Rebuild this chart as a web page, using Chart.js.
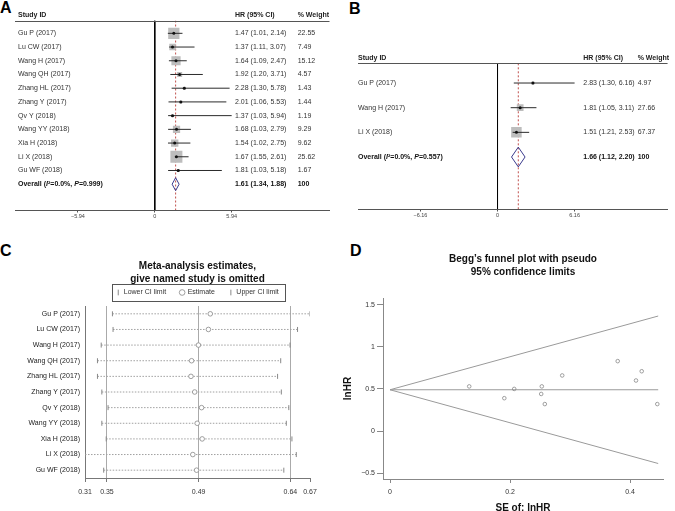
<!DOCTYPE html>
<html>
<head>
<meta charset="utf-8">
<script src="https://cdn.jsdelivr.net/npm/chart.js@4.4.1/dist/chart.umd.min.js"></script>
<style>
  body { margin: 0; width: 675px; height: 511px; overflow: hidden; background: #fff; position: relative; font-family: 'Liberation Sans', Arial, sans-serif; }
  canvas { position: absolute; }
  .tag { position: absolute; font-weight: bold; font-size: 16px; line-height: 1; color: #000; }
</style>
</head>
<body>
<div class="tag" style="left:0;top:0">A</div>
<div class="tag" style="left:349px;top:1px">B</div>
<div class="tag" style="left:0;top:243px">C</div>
<div class="tag" style="left:350px;top:243px">D</div>
<canvas id="chartA" width="338" height="232" style="left:0;top:0"></canvas>
<canvas id="chartB" width="335" height="232" style="left:340px;top:0"></canvas>
<canvas id="chartC" width="338" height="261" style="left:0;top:250px"></canvas>
<canvas id="chartD" width="335" height="268" style="left:340px;top:246px"></canvas>
<script>
const FONT = "'Liberation Sans', Arial, Helvetica, sans-serif";
Chart.defaults.font.family = FONT;
Chart.defaults.color = '#333';

// Panel A: forest plot, all studies
const studiesA = ['Gu P (2017)', 'Lu CW (2017)', 'Wang H (2017)', 'Wang QH (2017)', 'Zhang HL (2017)', 'Zhang Y (2017)', 'Qv Y (2018)', 'Wang YY (2018)', 'Xia H (2018)', 'Li X (2018)', 'Gu WF (2018)'];
const hrA = [1.47, 1.37, 1.64, 1.92, 2.28, 2.01, 1.37, 1.68, 1.54, 1.67, 1.81];
const lowA = [1.01, 1.11, 1.09, 1.20, 1.30, 1.06, 1.03, 1.03, 1.02, 1.55, 1.03];
const highA = [2.14, 3.07, 2.47, 3.71, 5.78, 5.53, 5.94, 2.79, 2.75, 2.61, 5.18];
const weightA = [22.55, 7.49, 15.12, 4.57, 1.43, 1.44, 1.19, 9.29, 9.62, 25.62, 1.67];
const overallA = [1.61, 1.34, 1.88]; // HR, low, high
const hetA = ['0.0%', '0.999'];
const ticksA = [-5.94, 0, 5.94];

// Panel B: forest plot, subgroup
const studiesB = ['Gu P (2017)', 'Wang H (2017)', 'Li X (2018)'];
const hrB = [2.83, 1.81, 1.51];
const lowB = [1.30, 1.05, 1.21];
const highB = [6.16, 3.11, 2.53];
const weightB = [4.97, 27.66, 67.37];
const overallB = [1.66, 1.12, 2.20];
const hetB = ['0.0%', '0.557'];
const ticksB = [-6.16, 0, 6.16];

// Panel C: leave-one-out sensitivity
const omitLow = [0.354, 0.355, 0.336, 0.330, 0.330, 0.337, 0.347, 0.337, 0.344, 0.310, 0.340];
const omitEst = [0.511, 0.508, 0.492, 0.481, 0.480, 0.486, 0.497, 0.490, 0.498, 0.483, 0.489];
const omitHigh = [0.671, 0.651, 0.639, 0.624, 0.619, 0.625, 0.637, 0.633, 0.642, 0.649, 0.629];
const omitTicks = [0.31, 0.3452, 0.4924, 0.6396, 0.671];

// Panel D: Begg's funnel plot
const seD = [0.132, 0.1905, 0.207, 0.253, 0.252, 0.258, 0.287, 0.3795, 0.41, 0.4195, 0.4455];
const lnhrD = [0.53, 0.39, 0.50, 0.53, 0.44, 0.32, 0.66, 0.83, 0.60, 0.71, 0.32];
const funnelSE = [0, 0.447];
const funnelMid = [0.49, 0.49];
const funnelUp = [0.49, 1.366];
const funnelLow = [0.49, -0.386];
const ticksDx = [0, 0.2, 0.4];
const ticksDy = [-0.5, 0, 0.5, 1, 1.5];

const signed = v => v === 0 ? '0' : (v < 0 ? '\u2212' : '') + Math.abs(v).toFixed(2);
const fmtCI = (h, l, u) => h.toFixed(2) + ' (' + l.toFixed(2) + ', ' + u.toFixed(2) + ')';

function forestChart(id, cfg) {
  const n = cfg.studies.length;
  const maxW = Math.max(...cfg.weight);
  const boxRadius = cfg.weight.map(w => cfg.maxBox * Math.sqrt(w / maxW) / Math.SQRT2);
  const [ohr, olo, ohi] = cfg.overall;
  const h = cfg.diamondHalf;
  const pts = cfg.hr.map((v, i) => ({ x: v, y: i }));
  const line = (data, color, extra) => Object.assign({ data, showLine: true, borderColor: color, borderWidth: 1, pointRadius: 0 }, extra);

  const datasets = [
    { data: pts, pointStyle: 'circle', pointRadius: 1.5, backgroundColor: '#111', borderWidth: 0, order: 1 },
    line([{ x: olo, y: n }, { x: ohr, y: n - h }, { x: ohi, y: n }, { x: ohr, y: n + h }, { x: olo, y: n }], '#3a3a8c', { order: 2 }),
    ...cfg.studies.map((s, i) => line([{ x: cfg.low[i], y: i }, { x: cfg.high[i], y: i }], '#2b2b2b', { order: 3 })),
    line([{ x: 0, y: cfg.yMin }, { x: 0, y: cfg.yMax }], '#000', { order: 4 }),
    { data: pts, pointStyle: 'rect', pointRadius: boxRadius, backgroundColor: '#bdbdbd', borderWidth: 0, order: 5 },
    line([{ x: ohr, y: cfg.yMin }, { x: ohr, y: cfg.yMax }], '#c0504d', { borderDash: [2, 2], order: 6 })
  ];

  const textPlugin = {
    id: 'forestText',
    afterDraw(chart) {
      const ctx = chart.ctx, y = chart.scales.y, area = chart.chartArea;
      ctx.save();
      ctx.textBaseline = 'middle';
      ctx.fillStyle = '#222';
      // header row and rule
      ctx.font = 'bold 7px ' + FONT;
      const hy = area.top - 5.5;
      ctx.fillText('Study ID', cfg.labelX, hy);
      ctx.fillText('HR (95% CI)', cfg.hrX, hy);
      ctx.fillText('% Weight', cfg.wX, hy);
      ctx.strokeStyle = '#555';
      ctx.lineWidth = 1;
      ctx.beginPath();
      ctx.moveTo(area.left, Math.round(area.top) + 0.5);
      ctx.lineTo(area.right, Math.round(area.top) + 0.5);
      ctx.stroke();
      // study rows
      ctx.font = '7px ' + FONT;
      ctx.fillStyle = '#333';
      cfg.studies.forEach((s, i) => {
        const py = y.getPixelForValue(i);
        ctx.fillText(s, cfg.labelX, py);
        ctx.fillText(fmtCI(cfg.hr[i], cfg.low[i], cfg.high[i]), cfg.hrX, py);
        ctx.fillText(cfg.weight[i].toFixed(2), cfg.wX, py);
      });
      // overall row
      const oy = y.getPixelForValue(n);
      ctx.fillStyle = '#111';
      let cx = cfg.labelX;
      [['Overall (', false], ['I', true], ['\u00b2=' + cfg.het[0] + ', ', false], ['P', true], ['=' + cfg.het[1] + ')', false]].forEach(([t, it]) => {
        ctx.font = (it ? 'italic ' : '') + 'bold 7px ' + FONT;
        ctx.fillText(t, cx, oy);
        cx += ctx.measureText(t).width;
      });
      ctx.font = 'bold 7px ' + FONT;
      ctx.fillText(fmtCI(ohr, olo, ohi), cfg.hrX, oy);
      ctx.fillText('100', cfg.wX, oy);
      ctx.restore();
    }
  };

  return new Chart(document.getElementById(id), {
    type: 'scatter',
    data: { datasets },
    plugins: [textPlugin],
    options: {
      responsive: false, animation: false, events: [],
      layout: { padding: cfg.padding },
      plugins: { legend: { display: false }, tooltip: { enabled: false } },
      scales: {
        x: {
          min: cfg.xMin, max: cfg.xMax,
          afterBuildTicks: s => { s.ticks = cfg.ticks.map(v => ({ value: v })); },
          ticks: { callback: v => signed(v), font: { size: 5.5 }, color: '#444', padding: 1, maxRotation: 0, autoSkip: false },
          grid: { drawOnChartArea: false, tickLength: 2.5, color: '#555' },
          border: { color: '#555' }
        },
        y: { display: false, reverse: true, min: cfg.yMin, max: cfg.yMax }
      }
    }
  });
}

forestChart('chartA', {
  studies: studiesA, hr: hrA, low: lowA, high: highA, weight: weightA, overall: overallA, het: hetA, ticks: ticksA,
  xMin: -10.8, xMax: 13.5, yMin: -0.935, yMax: 12.88, maxBox: 12, diamondHalf: 0.47,
  labelX: 18, hrX: 235, wX: 297.7,
  padding: { left: 15, right: 8, top: 20.5, bottom: 10.9 }
});

forestChart('chartB', {
  studies: studiesB, hr: hrB, low: lowB, high: highB, weight: weightB, overall: overallB, het: hetB, ticks: ticksB,
  xMin: -11.15, xMax: 13.59, yMin: -0.8, yMax: 5.108, maxBox: 10.5, diamondHalf: 0.4,
  labelX: 18, hrX: 243.3, wX: 297.7,
  padding: { left: 18, right: 2, top: 63.3, bottom: 11.9 }
});

// Panel C
const omitLines = studiesA.map((s, i) => ({
  data: [{ x: omitLow[i], y: s }, { x: omitHigh[i], y: s }],
  showLine: true, borderColor: '#a0a0a0', borderWidth: 1, borderDash: [1.5, 1.5], pointRadius: 0, order: 5
}));
const legendBox = {
  id: 'legendBox',
  afterDraw(chart) {
    const hb = chart.legend.legendHitBoxes;
    if (!hb || !hb.length) return;
    const last = hb[hb.length - 1];
    const l = Math.round(hb[0].left - 4) + 0.5, r = Math.round(last.left + last.width + 6) + 0.5;
    const t = Math.round(hb[0].top - 5) + 0.5, b = Math.round(hb[0].top + hb[0].height + 5) + 0.5;
    const ctx = chart.ctx;
    ctx.save();
    ctx.strokeStyle = '#555';
    ctx.lineWidth = 1;
    ctx.strokeRect(l, t, r - l, b - t);
    ctx.restore();
  }
};
new Chart(document.getElementById('chartC'), {
  type: 'scatter',
  data: {
    datasets: [
      { label: 'Lower CI limit', data: studiesA.map((s, i) => ({ x: omitLow[i], y: s })), pointStyle: 'line', rotation: 90, pointRadius: 2.5, borderColor: '#888', borderWidth: 1, backgroundColor: '#888', order: 1 },
      { label: 'Estimate', data: studiesA.map((s, i) => ({ x: omitEst[i], y: s })), pointStyle: 'circle', pointRadius: 2.3, borderColor: '#888', borderWidth: 0.8, backgroundColor: '#fff', order: 1 },
      { label: 'Upper CI limit', data: studiesA.map((s, i) => ({ x: omitHigh[i], y: s })), pointStyle: 'line', rotation: 90, pointRadius: 2.5, borderColor: '#888', borderWidth: 1, backgroundColor: '#888', order: 1 },
      ...omitLines
    ]
  },
  plugins: [legendBox],
  options: {
    responsive: false, animation: false, events: [],
    layout: { padding: { left: 0, right: 28, top: 0, bottom: 8.6 } },
    plugins: {
      tooltip: { enabled: false },
      title: {
        display: true, fullSize: false,
        text: ['Meta-analysis estimates,', 'give named study is omitted'],
        font: { size: 10, weight: 'bold', lineHeight: 1.3 }, color: '#111',
        padding: { top: 9.5, bottom: -10.5 }
      },
      legend: {
        display: true, fullSize: false,
        labels: { usePointStyle: true, boxWidth: 4, boxHeight: 4, padding: 14, font: { size: 7 }, color: '#333', filter: item => item.datasetIndex < 3 }
      }
    },
    scales: {
      x: {
        min: 0.31, max: 0.671,
        afterBuildTicks: s => { s.ticks = omitTicks.map(v => ({ value: v })); },
        ticks: { callback: v => v.toFixed(2), font: { size: 7 }, color: '#333', padding: 6, maxRotation: 0, autoSkip: false },
        grid: { color: c => (c.index === 0 || c.index === omitTicks.length - 1) ? 'rgba(0,0,0,0)' : '#aaa', tickColor: '#777', tickLength: 4 },
        border: { color: '#777' }
      },
      y: {
        type: 'category', labels: studiesA, offset: true,
        afterFit: s => { s.width = 85; },
        ticks: { padding: 5, font: { size: 7 }, color: '#222' },
        grid: { display: false, drawTicks: false },
        border: { display: true, color: '#777' }
      }
    }
  }
});

// Panel D
const funnelLine = (ys) => ({ data: funnelSE.map((x, i) => ({ x, y: ys[i] })), showLine: true, borderColor: '#9a9a9a', borderWidth: 1, pointRadius: 0 });
new Chart(document.getElementById('chartD'), {
  type: 'scatter',
  data: {
    datasets: [
      { data: seD.map((x, i) => ({ x, y: lnhrD[i] })), pointStyle: 'circle', pointRadius: 1.8, borderColor: '#888', borderWidth: 0.8, backgroundColor: 'rgba(0,0,0,0)' },
      funnelLine(funnelMid),
      funnelLine(funnelUp),
      funnelLine(funnelLow)
    ]
  },
  options: {
    responsive: false, animation: false, events: [],
    layout: { padding: { left: 0, right: 12, top: 0, bottom: 0 } },
    plugins: {
      tooltip: { enabled: false },
      legend: { display: false },
      title: {
        display: true, fullSize: false,
        text: ['Begg\u2019s funnel plot with pseudo', '95% confidence limits'],
        font: { size: 10, weight: 'bold', lineHeight: 1.3 }, color: '#111',
        padding: { top: 6.5, bottom: 19.5 }
      }
    },
    scales: {
      x: {
        min: -0.0117, max: 0.455,
        afterBuildTicks: s => { s.ticks = ticksDx.map(v => ({ value: v })); },
        ticks: { callback: v => String(v), font: { size: 7 }, color: '#333', padding: 5, maxRotation: 0, autoSkip: false },
        grid: { drawOnChartArea: false, tickLength: 4, color: '#888' },
        border: { color: '#888' },
        title: { display: true, text: 'SE of: lnHR', font: { size: 10, weight: 'bold' }, color: '#111', padding: { top: 0.6, bottom: 0 } }
      },
      y: {
        min: -0.57, max: 1.58,
        afterBuildTicks: s => { s.ticks = ticksDy.map(v => ({ value: v })); },
        afterFit: s => { s.width = 43; },
        ticks: { callback: v => (v < 0 ? '\u2212' : '') + Math.abs(v), font: { size: 7 }, color: '#333', padding: 2, autoSkip: false },
        grid: { drawOnChartArea: false, tickLength: 6, color: '#888' },
        border: { color: '#888' },
        title: { display: true, text: 'lnHR', font: { size: 10, weight: 'bold' }, color: '#111', padding: { top: 2, bottom: 0 } }
      }
    }
  }
});
</script>
</body>
</html>
